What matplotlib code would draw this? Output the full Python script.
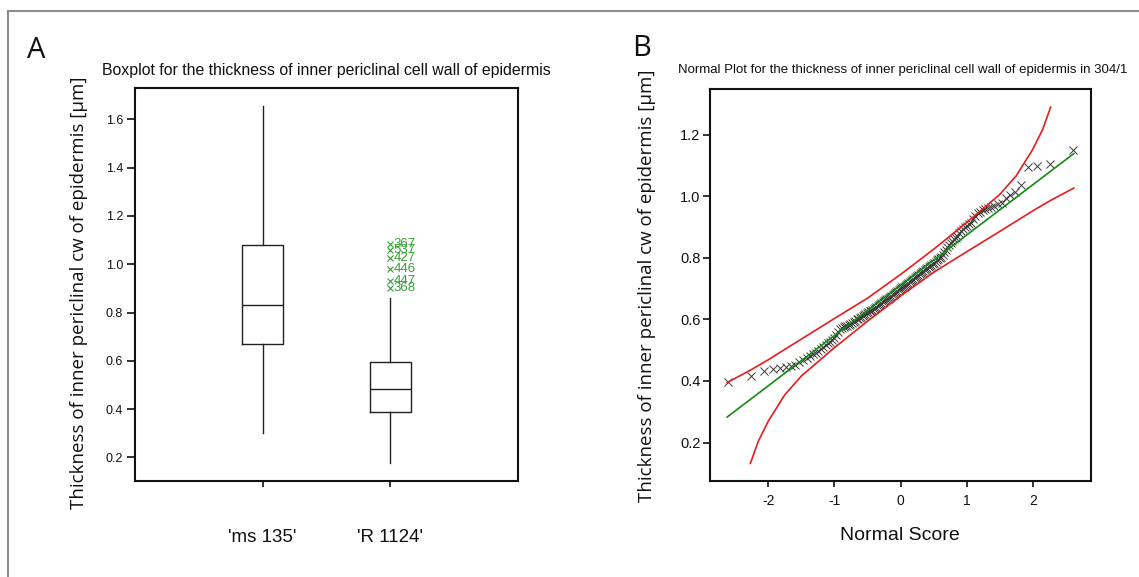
# Boxplot + normal plot for the thickness of inner periclinal cell wall
from statistics import NormalDist
import matplotlib
matplotlib.use('Agg')
import matplotlib.pyplot as plt
from matplotlib.lines import Line2D

plt.rcParams['axes.unicode_minus'] = False

# 1. data
# panel A - boxplot
groups = ["'ms 135'", "'R 1124'"]
box_q1 = [0.668, 0.389]
box_med = [0.833, 0.482]
box_q3 = [1.079, 0.594]
whisker_lo = [0.302, 0.175]
whisker_hi = [1.654, 0.861]
outlier_vals = [1.083, 1.059, 1.027, 0.982, 0.931, 0.903]
outlier_ids = ['367', '537', '427', '446', '447', '368']

# panel B - sorted thickness values of 304/1 (n = 136)
thickness = [
    0.396, 0.417, 0.433, 0.438, 0.443, 0.446, 0.448, 0.452, 0.462, 0.468,
    0.476, 0.481, 0.487, 0.492, 0.498, 0.504, 0.510, 0.516, 0.522, 0.528,
    0.534, 0.540, 0.548, 0.560, 0.568, 0.572, 0.575, 0.578, 0.580, 0.583,
    0.586, 0.589, 0.592, 0.596, 0.600, 0.603, 0.606, 0.609, 0.612, 0.615,
    0.617, 0.620, 0.623, 0.626, 0.629, 0.632, 0.635, 0.638, 0.641, 0.644,
    0.647, 0.650, 0.653, 0.656, 0.659, 0.662, 0.665, 0.668, 0.671, 0.674,
    0.677, 0.680, 0.683, 0.686, 0.689, 0.692, 0.695, 0.698, 0.701, 0.704,
    0.707, 0.710, 0.713, 0.716, 0.719, 0.722, 0.725, 0.728, 0.731, 0.734,
    0.737, 0.740, 0.744, 0.747, 0.750, 0.753, 0.757, 0.760, 0.763, 0.767,
    0.770, 0.774, 0.777, 0.781, 0.785, 0.788, 0.792, 0.796, 0.800, 0.804,
    0.810, 0.818, 0.826, 0.834, 0.842, 0.848, 0.854, 0.860, 0.866, 0.872,
    0.880, 0.888, 0.895, 0.900, 0.905, 0.910, 0.915, 0.925, 0.935, 0.945,
    0.950, 0.955, 0.958, 0.962, 0.966, 0.970, 0.975, 0.980, 0.995, 1.005,
    1.013, 1.038, 1.095, 1.098, 1.105, 1.151,
]
fit_z = [-2.62, 2.62]
fit_y = [0.283, 1.139]
upper_z = [-2.62, -2.27, -2.0, -1.5, -1.0, -0.5, 0.0, 0.5, 1.0, 1.5, 1.75, 2.0, 2.15, 2.27]
upper_y = [0.395, 0.435, 0.469, 0.536, 0.603, 0.669, 0.746, 0.828, 0.915, 1.006, 1.067, 1.153, 1.218, 1.290]
lower_z = [-2.27, -2.15, -2.0, -1.75, -1.5, -1.0, -0.5, 0.0, 0.5, 1.0, 1.5, 2.0, 2.27, 2.62]
lower_y = [0.132, 0.204, 0.269, 0.355, 0.416, 0.508, 0.594, 0.676, 0.753, 0.820, 0.886, 0.953, 0.987, 1.027]

score_ticks = [-2, -1, 0, 1, 2]

# 2. figure
fig = plt.figure(figsize=(11.39, 5.77), dpi=100)
W, H = 1139.0, 577.0
tick_font = 'Liberation Sans'
label_font = 'Open Sans'
green = '#35a035'

# screenshot border (top and left only)
fig.add_artist(Line2D([8 / W, 1], [1 - 11 / H] * 2, transform=fig.transFigure, color='#8c8c8c', lw=1.5))
fig.add_artist(Line2D([8 / W] * 2, [0, 1 - 11 / H], transform=fig.transFigure, color='#8c8c8c', lw=1.5))

# 3. panel A
axA = fig.add_axes([135 / W, 1 - 481 / H, 383 / W, 393 / H])
stats = []
for i, g in enumerate(groups):
    stats.append(dict(label=g, q1=box_q1[i], med=box_med[i], q3=box_q3[i],
                      whislo=whisker_lo[i], whishi=whisker_hi[i],
                      fliers=outlier_vals if i == 1 else []))
axA.bxp(stats, positions=[1, 2], widths=0.325, showcaps=False,
        boxprops=dict(color='#222222', lw=1),
        medianprops=dict(color='#222222', lw=1),
        whiskerprops=dict(color='#222222', lw=1),
        flierprops=dict(marker='x', markeredgecolor=green, markersize=5,
                        markeredgewidth=0.8, linestyle='none'))
# point numbers of the outliers, packed tight as in the original
for v, lab in zip(outlier_vals, outlier_ids):
    axA.annotate(lab, (2, v), xytext=(2.5, 0), textcoords='offset points',
                 ha='left', va='center', color=green, fontsize=9.5, family=tick_font)
axA.set_xlim(0, 3)
axA.set_ylim(0.102, 1.73)
axA.set_yticks([0.2, 0.4, 0.6, 0.8, 1.0, 1.2, 1.4, 1.6])
axA.set_yticklabels(['%.1f' % t for t in axA.get_yticks()], family=tick_font)
axA.set_xticks([1, 2])
axA.set_xticklabels(groups, family=tick_font)
axA.tick_params(axis='x', length=4.5, width=1.2, pad=30, labelsize=13.5, colors='#111111')
axA.tick_params(axis='y', length=5.5, width=1.2, pad=3, labelsize=9, colors='#111111')

# 4. panel B
axB = fig.add_axes([710 / W, 1 - 481 / H, 381 / W, 392 / H])
n = len(thickness)
scores = [NormalDist().inv_cdf((i + 1 - 0.375) / (n + 0.25)) for i in range(n)]
axB.plot(scores, thickness, 'x', color='#3a3a3a', ms=6, mew=0.7, zorder=2)
axB.plot(fit_z, fit_y, color='#138a13', lw=1.2, zorder=3)
axB.plot(upper_z, upper_y, color='#e81c1c', lw=1.2, zorder=3)
axB.plot(lower_z, lower_y, color='#e81c1c', lw=1.2, zorder=3)
axB.set_xlim(-2.88, 2.88)
axB.set_ylim(0.075, 1.349)
axB.set_xticks(score_ticks)
axB.set_xticklabels([str(t) for t in score_ticks], family=tick_font)
axB.set_yticks([0.2, 0.4, 0.6, 0.8, 1.0, 1.2])
axB.set_yticklabels(['%.1f' % t for t in axB.get_yticks()], family=tick_font)
axB.tick_params(axis='x', length=4.5, width=1.2, pad=5, labelsize=10, colors='#111111')
axB.tick_params(axis='y', length=5, width=1.2, pad=2, labelsize=10.5, colors='#111111')

for ax in (axA, axB):
    for s in ax.spines.values():
        s.set_linewidth(1.5)
        s.set_color('#111111')

# 5. texts
ylab = 'Thickness of inner periclinal cw of epidermis [\u00b5m]'
fig.text(79 / W, 1 - 293 / H, ylab, rotation=90, ha='center', va='center',
         fontsize=13.5, family=label_font, color='#111111')
fig.text(647 / W, 1 - 286 / H, ylab, rotation=90, ha='center', va='center',
         fontsize=13.5, family=label_font, color='#111111')
fig.text(326.5 / W, 1 - 70 / H,
         'Boxplot for the thickness of inner periclinal cell wall of epidermis',
         ha='center', va='center', fontsize=11.4, family=tick_font, color='#111111')
fig.text(903 / W, 1 - 70 / H,
         'Normal Plot for the thickness of inner periclinal cell wall of epidermis in 304/1',
         ha='center', va='center', fontsize=9.5, family=tick_font, color='#111111')
fig.text(900 / W, 1 - 535 / H, 'Normal Score', ha='center', va='center',
         fontsize=14, family=tick_font, color='#111111')
fig.text(36 / W, 1 - 50 / H, 'A', ha='center', va='center', fontsize=21,
         family=label_font, color='#111111')
fig.text(642 / W, 1 - 49 / H, 'B', ha='center', va='center', fontsize=21,
         family=label_font, color='#111111')

plt.savefig('out.png', dpi=100)
